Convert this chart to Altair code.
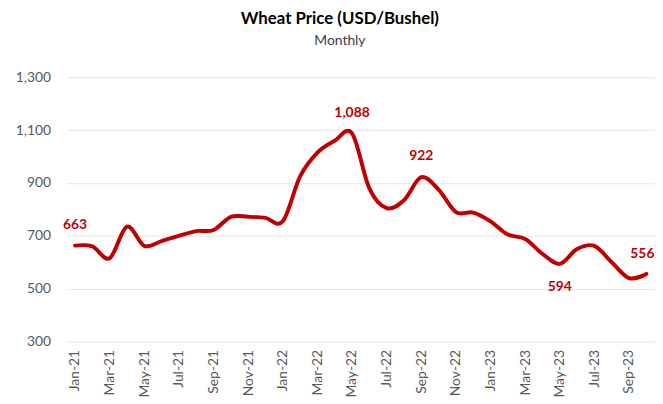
import altair as alt
import pandas as pd

months = ["Jan-21", "Feb-21", "Mar-21", "Apr-21", "May-21", "Jun-21", "Jul-21", "Aug-21",
          "Sep-21", "Oct-21", "Nov-21", "Dec-21", "Jan-22", "Feb-22", "Mar-22", "Apr-22",
          "May-22", "Jun-22", "Jul-22", "Aug-22", "Sep-22", "Oct-22", "Nov-22", "Dec-22",
          "Jan-23", "Feb-23", "Mar-23", "Apr-23", "May-23", "Jun-23", "Jul-23", "Aug-23",
          "Sep-23", "Oct-23"]
prices = [663, 660, 615, 735, 662, 680, 700, 718, 722, 772, 772, 768,
          755, 925, 1015, 1060, 1088, 880, 805, 835, 922, 875, 790, 788,
          755, 705, 688, 632, 594, 650, 662, 600, 540, 556]

label_above_months = ["Jan-21", "May-22", "Sep-22"]
label_end_months = ["Oct-23"]
label_below_months = ["May-23"]

RED = "#C00000"
FONT = "Lato"

df = pd.DataFrame({"month": months, "price": prices})
df["label"] = df["price"].map(lambda v: f"{v:,}")

x_enc = alt.X(
    "month:O",
    sort=months,
    scale=alt.Scale(type="point", padding=0.5),
    axis=alt.Axis(
        values=months[::2], labelAngle=270, title=None, ticks=False, domain=False,
        grid=False, labelFont=FONT, labelFontSize=14, labelColor="#595959", labelPadding=8,
    ),
)
y_enc = alt.Y(
    "price:Q",
    scale=alt.Scale(domain=[300, 1300], nice=False, zero=False),
    axis=alt.Axis(
        values=[300, 500, 700, 900, 1100, 1300], format=",.0f", title=None, ticks=False,
        domain=False, grid=True, gridColor="#e6e6e6", gridWidth=1,
        labelFont=FONT, labelFontSize=14, labelColor="#595959", labelPadding=16,
    ),
)

line = alt.Chart(df).mark_line(
    color=RED, strokeWidth=4, interpolate="cardinal", strokeCap="round", strokeJoin="round"
).encode(x=x_enc, y=y_enc)

def labels(sel, dy, dx=0):
    return alt.Chart(df[df["month"].isin(sel)]).mark_text(
        color=RED, font=FONT, fontSize=14, fontWeight="bold", dy=dy, dx=dx, baseline="middle"
    ).encode(x=alt.X("month:O", sort=months), y="price:Q", text="label:N")

chart = (
    alt.layer(
        line,
        labels(label_above_months, -21),
        labels(label_end_months, -20, -4),
        labels(label_below_months, 23),
    )
    .properties(
        width=595,
        height=267,
        autosize="none",
        padding={"left": 59, "top": 68, "right": 0, "bottom": 55},
        background="white",
        title=alt.TitleParams(
            text="Wheat Price (USD/Bushel)",
            subtitle="Monthly",
            anchor="middle",
            dx=-21,
            offset=22,
            font=FONT,
            fontSize=17,
            fontWeight="bold",
            color="#000000",
            subtitleFont=FONT,
            subtitleFontSize=14,
            subtitleColor="#404040",
            subtitlePadding=6,
        ),
    )
    .configure_view(stroke=None)
)

chart.save("out.html", embed_options={"renderer": "svg", "actions": False})
